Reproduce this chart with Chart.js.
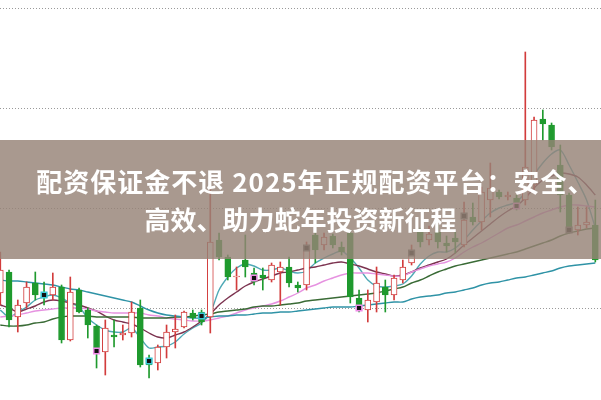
<!DOCTYPE html>
<html>
<head>
<meta charset="utf-8">
<script src="https://cdn.jsdelivr.net/npm/chart.js@4.4.1/dist/chart.umd.min.js"></script>
<style>
  html, body { margin: 0; padding: 0; background: #fff; }
  #wrap { position: relative; width: 601px; height: 400px; overflow: hidden; }
  #banner {
    position: absolute; left: 0; top: 140px; width: 601px; height: 119px;
    background: rgba(150, 130, 118, 0.82);
    display: flex; flex-direction: column; align-items: center; justify-content: center;
    color: #fff; font-family: "Noto Sans CJK SC", sans-serif; font-weight: bold;
    font-size: 26px; line-height: 38px; text-align: center; white-space: nowrap;
  }
  #banner .l1 { letter-spacing: 1px; padding-left: 30px; }
</style>
</head>
<body>
<div id="wrap">
  <canvas id="kChart" width="601" height="400"></canvas>
  <div id="banner"><div class="l1">配资保证金不退 2025年正规配资平台：安全、</div><div>高效、助力蛇年投资新征程</div></div>
</div>
<script>
// daily candles (price units)
const opens  = [5.15,5.36,4.91,5.05,5.25,5.15,5.13,5.21,4.68,5.18,4.98,4.82,4.56,4.73,4.73,4.75,5.00,4.50,4.45,4.61,4.76,4.81,4.95,4.96,4.91,5.68,5.51,5.31,5.48,5.35,5.33,5.28,5.36,5.41,5.23,5.23,5.73,5.63,5.72,5.61,5.75,5.10,4.98,5.06,5.21,5.13,5.28,5.45,5.76,5.68,5.76,5.65,5.70,5.63,5.91,5.86,6.08,6.16,6.11,6.10,6.08,6.23,6.89,6.83,6.43,6.13,5.78,5.83,5.83];
const closes = [5.38,4.88,5.03,5.21,5.13,5.10,5.21,4.68,5.16,4.96,4.83,4.58,4.80,4.71,4.75,4.96,4.43,4.43,4.61,4.76,4.79,4.96,4.90,4.86,5.66,5.51,5.31,5.32,5.41,5.26,5.30,5.43,5.41,5.25,5.20,5.58,5.58,5.71,5.63,5.56,5.11,5.03,5.08,5.25,5.13,5.30,5.41,5.58,5.66,5.74,5.66,5.62,5.66,5.88,5.86,6.16,6.20,6.11,6.13,6.03,6.41,6.88,6.84,6.61,6.13,5.78,5.83,5.86,5.48];
const highs  = [5.56,5.38,5.08,5.26,5.36,5.26,5.35,5.23,5.31,5.20,5.00,4.83,4.88,4.88,4.83,5.06,5.08,4.53,4.63,4.83,4.93,4.97,4.98,4.98,6.21,5.75,5.53,5.41,5.73,5.40,5.40,5.45,5.46,5.51,5.26,5.66,5.75,5.75,5.74,5.66,5.78,5.18,5.18,5.41,5.28,5.33,5.48,5.63,5.80,5.82,5.83,5.72,5.76,6.06,6.05,6.21,6.45,6.18,6.16,6.13,7.56,6.91,6.98,6.85,6.63,6.15,6.01,6.01,6.08];
const lows   = [5.03,4.81,4.76,5.00,5.08,5.03,5.08,4.65,4.67,4.95,4.70,4.40,4.33,4.61,4.68,4.71,4.41,4.30,4.38,4.50,4.60,4.80,4.88,4.83,4.75,5.48,5.28,5.18,5.31,5.23,5.18,5.26,5.03,5.21,5.16,5.18,5.45,5.58,5.60,5.53,5.05,4.96,4.86,4.96,4.96,5.08,5.25,5.43,5.61,5.63,5.60,5.56,5.55,5.61,5.83,5.78,5.91,6.09,6.08,5.98,6.03,6.18,6.68,6.58,5.96,5.75,5.73,5.80,5.46];

// moving averages
const ma5  = [4.98,4.91,4.96,5.01,5.08,5.11,5.13,5.10,5.05,5.01,4.90,4.83,4.78,4.76,4.76,4.80,4.70,4.60,4.61,4.62,4.66,4.74,4.80,4.85,4.95,5.18,5.31,5.40,5.44,5.42,5.38,5.38,5.40,5.37,5.35,5.37,5.45,5.50,5.54,5.57,5.50,5.40,5.28,5.22,5.21,5.22,5.24,5.32,5.44,5.52,5.56,5.56,5.60,5.68,5.78,5.87,5.95,6.00,6.03,6.06,6.16,6.33,6.45,6.54,6.58,6.43,6.26,6.08,5.80];
const ma10 = [5.03,5.00,4.96,4.99,5.02,5.06,5.08,5.07,5.05,5.03,5.00,4.97,4.92,4.88,4.86,4.84,4.80,4.75,4.71,4.70,4.73,4.76,4.81,4.87,4.94,5.03,5.10,5.16,5.22,5.26,5.29,5.32,5.35,5.36,5.38,5.40,5.41,5.43,5.45,5.46,5.44,5.42,5.39,5.36,5.34,5.32,5.33,5.36,5.40,5.43,5.46,5.49,5.55,5.63,5.70,5.77,5.84,5.91,5.97,6.02,6.10,6.20,6.28,6.32,6.35,6.34,6.31,6.23,6.13];
const ma20 = [4.91,4.92,4.93,4.95,4.97,4.98,4.99,5.00,5.00,5.00,4.99,4.97,4.96,4.95,4.95,4.95,4.95,4.93,4.92,4.90,4.89,4.88,4.87,4.87,4.88,4.90,4.92,4.95,4.98,5.00,5.02,5.04,5.07,5.11,5.15,5.20,5.23,5.27,5.30,5.33,5.35,5.35,5.35,5.34,5.33,5.32,5.32,5.36,5.39,5.42,5.44,5.46,5.50,5.56,5.61,5.65,5.70,5.75,5.80,5.83,5.87,5.91,5.95,5.98,6.01,6.03,6.03,6.02,6.01];
const ma30 = [4.83,4.82,4.82,4.83,4.85,4.86,4.89,4.91,4.92,4.92,4.92,4.91,4.91,4.91,4.91,4.91,4.90,4.90,4.90,4.90,4.91,4.91,4.92,4.93,4.94,4.96,4.97,4.98,4.99,5.01,5.02,5.02,5.03,5.04,5.05,5.07,5.08,5.09,5.10,5.11,5.12,5.13,5.14,5.15,5.17,5.19,5.21,5.25,5.28,5.32,5.36,5.39,5.42,5.44,5.46,5.48,5.50,5.52,5.54,5.56,5.59,5.62,5.65,5.68,5.72,5.75,5.77,5.79,5.80];
const ma60 = [5.28,5.27,5.27,5.26,5.25,5.24,5.23,5.21,5.19,5.18,5.16,5.14,5.12,5.10,5.08,5.06,5.02,4.98,4.95,4.93,4.92,4.91,4.90,4.90,4.91,4.92,4.92,4.93,4.93,4.94,4.95,4.95,4.96,4.96,4.97,4.98,4.99,5.00,5.01,5.01,5.01,5.02,5.03,5.04,5.05,5.06,5.06,5.09,5.11,5.12,5.13,5.15,5.16,5.18,5.20,5.23,5.25,5.26,5.28,5.30,5.31,5.33,5.35,5.37,5.40,5.42,5.43,5.44,5.45];

// signal squares every six sessions
const signalIdx = [5,11,17,23,29,35,41,47,53,59,65];
const signalVal = [5.13,4.57,4.47,4.92,5.30,5.60,5.00,5.55,5.92,6.02,5.78];
const signalEdge = ['#3cc8d8','#f08ce8','#3cc8d8','#3cc8d8','#f08ce8','#666','#f08ce8','#666','#666','#f08ce8','#666'];

const gridLevels = [5, 6, 7, 8];

const RED = '#d23c3c', GREEN = '#1f9a2e';
const isUp = opens.map((o, i) => closes[i] >= o);

const wickData = highs.map((h, i) => ({ x: i, y: [lows[i], h] }));
const bodyData = opens.map((o, i) => ({ x: i, y: [o, closes[i]] }));
const toPts = arr => arr.map((v, i) => ({ x: i, y: v }));

function maLine(label, arr, color, w) {
  return { type: 'line', label, data: toPts(arr), borderColor: color, borderWidth: w,
           pointRadius: 0, pointHoverRadius: 0, tension: 0.3, order: 3 };
}

const kConfig = {
  type: 'bar',
  data: {
    datasets: [
      maLine('MA60', ma60, '#2f93a6', 1.4),
      maLine('MA30', ma30, '#3a6b36', 1.4),
      maLine('MA20', ma20, '#e692e0', 1.4),
      maLine('MA10', ma10, '#7c3350', 1.4),
      maLine('MA5', ma5, '#4fa9b6', 1.4),
      {
        label: 'wick', data: wickData, grouped: false, barThickness: 1, order: 2,
        backgroundColor: isUp.map(u => u ? RED : GREEN), borderWidth: 0
      },
      {
        label: 'body', data: bodyData, grouped: false, barThickness: 6, order: 1,
        backgroundColor: isUp.map(u => u ? '#ffffff' : GREEN),
        borderColor: isUp.map(u => u ? RED : GREEN), borderWidth: 1, borderSkipped: false,
        minBarLength: 1
      },
      {
        type: 'scatter', label: 'signal', order: 0,
        data: signalIdx.map((k, i) => ({ x: k, y: signalVal[i] })),
        pointStyle: 'rect', pointRadius: 4, pointHoverRadius: 4, backgroundColor: '#111',
        borderColor: signalEdge, borderWidth: 1.5
      }
    ]
  },
  options: {
    responsive: false,
    animation: false,
    layout: { padding: 0, autoPadding: false },
    plugins: { legend: { display: false }, tooltip: { enabled: false }, title: { display: false } },
    scales: {
      x: { type: 'linear', min: -0.034, max: 68.65, offset: false, display: false },
      y: {
        min: 4.08, max: 8.08,
        afterBuildTicks: s => { s.ticks = gridLevels.map(v => ({ value: v })); },
        ticks: { display: false },
        border: { display: false, dash: [1, 2] },
        grid: { color: '#9a9a9a', lineWidth: 1, drawTicks: false, tickLength: 0 }
      }
    }
  }
};

const kChart = new Chart(document.getElementById('kChart'), kConfig);
</script>
</body>
</html>
